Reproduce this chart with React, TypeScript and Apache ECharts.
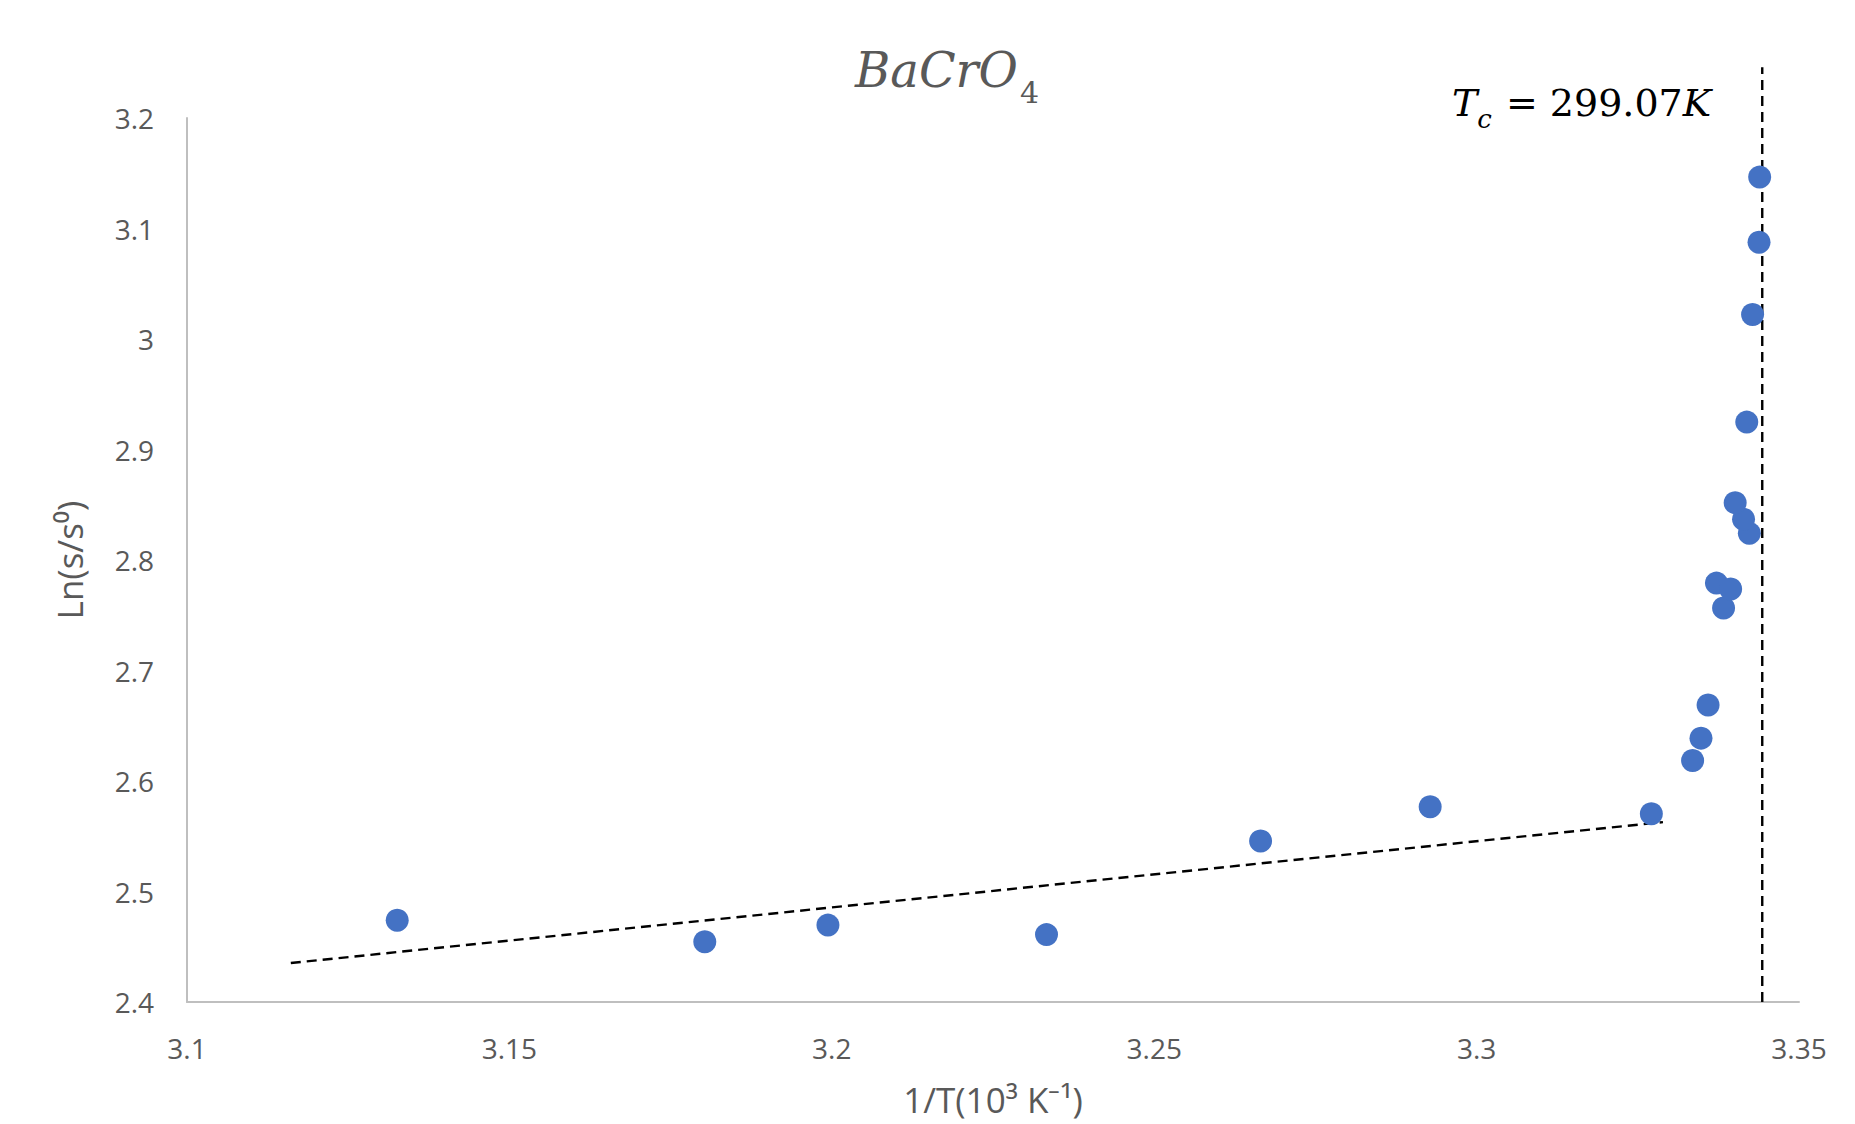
import React, { useEffect, useRef } from "react";
import * as echarts from "echarts";

const xValues = [3.1326, 3.1803, 3.1994, 3.2333, 3.2665, 3.2928, 3.3271, 3.3335, 3.3348, 3.3359, 3.3383, 3.3372, 3.3394, 3.3423, 3.3414, 3.3401, 3.3419, 3.3428, 3.3438, 3.3439];
const yValues = [2.474, 2.4546, 2.4696, 2.461, 2.5457, 2.5767, 2.5703, 2.6185, 2.6388, 2.6688, 2.7566, 2.7791, 2.7738, 2.8241, 2.8369, 2.8519, 2.9248, 3.0222, 3.0876, 3.1465];
const trendX = [3.1161, 3.3289];
const trendY = [2.4353, 2.5628];
const tcX = 3.3443;
const tcY = [2.4, 3.246];
const xTicks = { min: 3.1, max: 3.35, interval: 0.05 };
const yTicks = { min: 2.4, max: 3.2, interval: 0.1 };

export default function App() {
  const ref = useRef<HTMLDivElement>(null);
  useEffect(() => {
    if (!ref.current) return;
    const chart = echarts.init(ref.current, null, { renderer: "svg" });
    const points = xValues.map((x, i) => [x, yValues[i]]);
    const trend = trendX.map((x, i) => [x, trendY[i]]);
    const tc = tcY.map((y) => [tcX, y]);
    const labelFont = "'Open Sans', 'Liberation Sans', sans-serif";
    const mathFont = "'DejaVu Serif', serif";
    chart.setOption({
      animation: false,
      backgroundColor: "#ffffff",
      grid: { left: 187, right: 56, top: 118, bottom: 122, containLabel: false, outerBoundsMode: "none" },
      xAxis: {
        type: "value",
        min: xTicks.min,
        max: xTicks.max,
        interval: xTicks.interval,
        name: "1/T(10³ K⁻¹)",
        nameLocation: "middle",
        nameGap: 80,
        nameTextStyle: { color: "#595959", fontSize: 35, fontFamily: labelFont },
        axisLine: { show: true, onZero: false, lineStyle: { color: "#bfbfbf", width: 2 } },
        axisTick: { show: false },
        splitLine: { show: false },
        axisLabel: {
          color: "#595959",
          fontSize: 28,
          fontFamily: labelFont,
          margin: 32,
          formatter: (v: number) => String(+v.toFixed(2)),
        },
      },
      yAxis: {
        type: "value",
        min: yTicks.min,
        max: yTicks.max,
        interval: yTicks.interval,
        name: "Ln(s/s⁰)",
        nameLocation: "middle",
        nameGap: 100,
        nameTextStyle: { color: "#595959", fontSize: 35, fontFamily: labelFont },
        axisLine: { show: true, onZero: false, lineStyle: { color: "#bfbfbf", width: 2 } },
        axisTick: { show: false },
        splitLine: { show: false },
        axisLabel: {
          color: "#595959",
          fontSize: 28,
          fontFamily: labelFont,
          margin: 33,
          formatter: (v: number) => String(+v.toFixed(1)),
        },
      },
      series: [
        {
          type: "line",
          data: trend,
          symbol: "none",
          lineStyle: { color: "#000000", width: 2.4, type: [10, 6] },
          z: 1,
        },
        {
          type: "line",
          data: tc,
          symbol: "none",
          clip: false,
          lineStyle: { color: "#000000", width: 2.4, type: [10, 6] },
          z: 1,
        },
        {
          type: "scatter",
          data: points,
          symbol: "circle",
          symbolSize: 23,
          itemStyle: { color: "#4472c4", opacity: 1 },
          z: 3,
        },
      ],
      graphic: [
        {
          type: "text",
          left: 855,
          top: 46,
          style: {
            text: "{a|BaCrO}{s|4}",
            rich: {
              a: { fontSize: 48, fontStyle: "italic", fontFamily: mathFont, fill: "#595959", verticalAlign: "bottom" },
              s: { fontSize: 30, fontFamily: mathFont, fill: "#595959", verticalAlign: "bottom", padding: [0, 0, -13, 2] },
            },
          },
        },
        {
          type: "text",
          left: 1452,
          top: 84,
          style: {
            text: "{a|T}{s|c}{b|= 299.07}{a|K}",
            rich: {
              a: { fontSize: 38, fontStyle: "italic", fontFamily: mathFont, fill: "#000000", verticalAlign: "bottom" },
              s: { fontSize: 26, fontStyle: "italic", fontFamily: mathFont, fill: "#000000", verticalAlign: "bottom", padding: [0, 14, -10, 0] },
              b: { fontSize: 38, fontFamily: mathFont, fill: "#000000", verticalAlign: "bottom" },
            },
          },
        },
      ],
    });
    return () => chart.dispose();
  }, []);
  return (
    <div
      ref={ref}
      style={{ position: "fixed", left: 0, top: 0, width: 1855, height: 1124, background: "#fff" }}
    />
  );
}
